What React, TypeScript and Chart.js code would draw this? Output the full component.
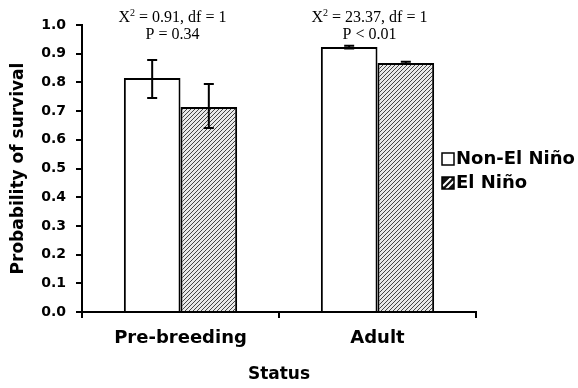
import React, { useEffect, useRef } from 'react';
import { Chart, registerables } from 'chart.js';

Chart.register(...registerables);

const categories = ['Pre-breeding', 'Adult'];
const seriesNames = ['Non-El Niño', 'El Niño'];
const nonElNino = [0.815, 0.923];
const elNino = [0.714, 0.868];
const nonElNinoLow = [0.746, 0.918];
const nonElNinoHigh = [0.878, 0.928];
const elNinoLow = [0.641, 0.864];
const elNinoHigh = [0.794, 0.872];
const chiSquare = ['0.91', '23.37'];
const degreesFreedom = ['1', '1'];
const pValues = ['P = 0.34', 'P < 0.01'];

const BOLD = 'DejaVu Sans';
const SERIF = '"Liberation Serif", "Times New Roman", serif';

function makeHatch(ctx: CanvasRenderingContext2D): CanvasPattern | string {
  const c = document.createElement('canvas');
  c.width = 4;
  c.height = 4;
  const g = c.getContext('2d');
  if (!g) return '#999';
  g.fillStyle = '#e8e8e8';
  g.fillRect(0, 0, 4, 4);
  g.strokeStyle = '#444';
  g.lineWidth = 1;
  g.beginPath();
  g.moveTo(0, 4);
  g.lineTo(4, 0);
  g.moveTo(-1, 1);
  g.lineTo(1, -1);
  g.moveTo(3, 5);
  g.lineTo(5, 3);
  g.stroke();
  return ctx.createPattern(c, 'repeat') || '#999';
}

const errorBarPlugin = {
  id: 'errorBars',
  afterDatasetsDraw(chart: any) {
    const ctx = chart.ctx;
    const ys = chart.scales.y;
    chart.data.datasets.forEach((ds: any, i: number) => {
      const meta = chart.getDatasetMeta(i);
      meta.data.forEach((bar: any, j: number) => {
        const x = bar.x;
        const yl = ys.getPixelForValue(ds.errLow[j]);
        const yh = ys.getPixelForValue(ds.errHigh[j]);
        ctx.save();
        ctx.strokeStyle = '#000';
        ctx.lineWidth = 2;
        ctx.beginPath();
        ctx.moveTo(x, yl);
        ctx.lineTo(x, yh);
        ctx.moveTo(x - 5, yl);
        ctx.lineTo(x + 5, yl);
        ctx.moveTo(x - 5, yh);
        ctx.lineTo(x + 5, yh);
        ctx.stroke();
        ctx.restore();
      });
    });
  },
};

const annotationPlugin = {
  id: 'statsText',
  afterDraw(chart: any) {
    const ctx = chart.ctx;
    const xs = chart.scales.x;
    categories.forEach((_, j) => {
      const cx = xs.getPixelForValue(j) - 8;
      ctx.save();
      ctx.fillStyle = '#000';
      ctx.textBaseline = 'middle';
      const big = `16px ${SERIF}`;
      const small = `10px ${SERIF}`;
      const rest = ` = ${chiSquare[j]}, df = ${degreesFreedom[j]}`;
      ctx.font = big;
      const wX = ctx.measureText('X').width;
      const wRest = ctx.measureText(rest).width;
      ctx.font = small;
      const w2 = ctx.measureText('2').width;
      const total = wX + w2 + wRest;
      let x = cx - total / 2;
      const y1 = 18;
      ctx.textAlign = 'left';
      ctx.font = big;
      ctx.fillText('X', x, y1);
      x += wX;
      ctx.font = small;
      ctx.fillText('2', x, y1 - 5);
      x += w2;
      ctx.font = big;
      ctx.fillText(rest, x, y1);
      ctx.textAlign = 'center';
      ctx.fillText(pValues[j], cx, 35);
      ctx.restore();
    });
  },
};

const legendPlugin = {
  id: 'customLegend',
  afterDraw(chart: any) {
    const ctx = chart.ctx;
    const bx = 442;
    const rows = [159, 183];
    ctx.save();
    seriesNames.forEach((name, i) => {
      const cy = rows[i];
      const top = cy - 6;
      if (i === 0) {
        ctx.fillStyle = '#fff';
        ctx.fillRect(bx, top, 12, 12);
      } else {
        ctx.fillStyle = '#111';
        ctx.fillRect(bx, top, 12, 12);
        ctx.strokeStyle = '#fff';
        ctx.lineWidth = 2;
        ctx.beginPath();
        ctx.moveTo(bx + 1, top + 9);
        ctx.lineTo(bx + 9, top + 1);
        ctx.moveTo(bx + 4, top + 12);
        ctx.lineTo(bx + 12, top + 4);
        ctx.stroke();
      }
      ctx.strokeStyle = '#000';
      ctx.lineWidth = 1.5;
      ctx.strokeRect(bx, top, 12, 12);
      ctx.fillStyle = '#000';
      ctx.font = `bold 18px ${BOLD}`;
      ctx.textAlign = 'left';
      ctx.textBaseline = 'middle';
      ctx.fillText(name, bx + 14, cy);
    });
    ctx.restore();
  },
};

export default function App() {
  const ref = useRef<HTMLCanvasElement | null>(null);
  useEffect(() => {
    const canvas = ref.current;
    if (!canvas) return;
    const ctx = canvas.getContext('2d');
    if (!ctx) return;
    const hatch = makeHatch(ctx);
    const chart = new Chart(canvas, {
      type: 'bar',
      data: {
        labels: categories,
        datasets: [
          {
            label: seriesNames[0],
            data: nonElNino,
            backgroundColor: '#ffffff',
            borderColor: '#000',
            borderWidth: 2,
            errLow: nonElNinoLow,
            errHigh: nonElNinoHigh,
          } as any,
          {
            label: seriesNames[1],
            data: elNino,
            backgroundColor: hatch,
            borderColor: '#000',
            borderWidth: 2,
            errLow: elNinoLow,
            errHigh: elNinoHigh,
          } as any,
        ],
      },
      options: {
        animation: false,
        responsive: false,
        devicePixelRatio: 1,
        datasets: { bar: { categoryPercentage: 0.575, barPercentage: 1 } },
        layout: { padding: { top: 25, right: 102, left: 0, bottom: 0 } },
        plugins: { legend: { display: false }, tooltip: { enabled: false } },
        scales: {
          x: {
            offset: true,
            grid: { offset: true, drawOnChartArea: false, drawTicks: true, tickLength: 6, color: '#000', lineWidth: 2 },
            border: { display: true, color: '#000', width: 2 },
            ticks: { color: '#000', font: { family: BOLD, weight: 'bold', size: 18 }, padding: 10, maxRotation: 0 },
            title: {
              display: true,
              text: 'Status',
              color: '#000',
              font: { family: BOLD, weight: 'bold', size: 17 },
              padding: { top: 0, bottom: 3 },
            },
            afterFit: (s: any) => {
              s.height = 76;
            },
          },
          y: {
            min: 0,
            max: 1,
            ticks: {
              stepSize: 0.1,
              color: '#000',
              font: { family: BOLD, weight: 'bold', size: 14 },
              padding: 10,
              callback: (v: any) => Number(v).toFixed(1),
            },
            grid: { drawOnChartArea: false, drawTicks: true, tickLength: 6, color: '#000', lineWidth: 2 },
            border: { display: true, color: '#000', width: 2 },
            title: {
              display: true,
              text: 'Probability of survival',
              color: '#000',
              font: { family: BOLD, weight: 'bold', size: 17 },
              padding: { top: 8, bottom: 0 },
            },
            afterFit: (s: any) => {
              s.width = 82;
            },
          },
        },
      } as any,
      plugins: [errorBarPlugin, annotationPlugin, legendPlugin],
    });
    return () => chart.destroy();
  }, []);
  return (
    <div style={{ position: 'fixed', left: 0, top: 0, width: 578, height: 388, background: '#fff' }}>
      <canvas ref={ref} width={578} height={388} />
    </div>
  );
}
